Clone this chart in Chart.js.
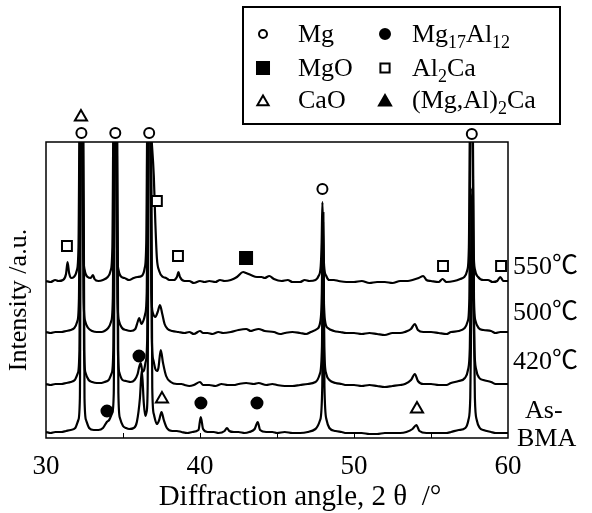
<!DOCTYPE html>
<html>
<head>
<meta charset="utf-8">
<script src="https://cdn.jsdelivr.net/npm/chart.js@4.4.1/dist/chart.umd.min.js"></script>
<style>
  html, body { margin: 0; padding: 0; background: #fff; }
  canvas { display: block; }
</style>
</head>
<body>
<canvas id="xrd" width="592" height="513"></canvas>
<script>
// x tick labels and traces (2 theta in degrees, intensity in a.u. with offsets)
const xTicks = [30, 40, 50, 60];
const minorTicks = [35, 40, 45, 50, 55];
const traceNames = ['550℃', '500℃', '420℃', 'As-BMA'];

const trace550 = [
  [30.0,157],[30.3,156],[30.6,158],[30.8,157],[31.1,158],[31.3,164],[31.4,176],[31.5,165],
  [31.65,160],[31.81,161],[32.01,168],[32.11,191],[32.19,330],[32.33,330],[32.41,191],[32.51,168],
  [32.71,161],[32.9,160],[33.05,163],[33.15,159],[33.4,157],[33.7,158],[34.01,161],[34.21,168],
  [34.31,191],[34.39,330],[34.53,330],[34.61,191],[34.71,168],[34.91,161],[35.1,160],[35.4,158],
  [35.7,160],[35.95,161],[36.21,162],[36.41,170],[36.51,195],[36.59,330],[36.73,330],[36.85,300],
  [37.0,262],[37.1,215],[37.2,180],[37.35,167],[37.6,161],[37.8,160],[38.0,158],[38.3,158],
  [38.5,161],[38.6,166],[38.7,161],[39.0,157],[39.3,157],[39.6,155],[40.0,157],[40.3,156],
  [40.6,157],[41.0,156],[41.3,158],[41.6,157],[42.0,158],[42.4,161],[42.8,166],[43.0,165],
  [43.3,163],[43.7,161],[44.0,161],[44.2,160],[44.5,162],[44.8,159],[45.3,157],[45.7,158],
  [46.0,156],[46.5,156],[46.8,158],[47.1,157],[47.5,158],[47.7,162],[47.84,172],[47.9,196],
  [47.95,236],[48.0,196],[48.06,172],[48.2,162],[48.4,158],[48.7,158],[49.0,157],[49.5,156],
  [50.0,156],[50.5,157],[51.0,155],[51.5,156],[52.0,156],[52.5,155],[53.0,157],[53.5,157],
  [53.8,158],[54.2,160],[54.5,162],[54.7,158],[55.0,157],[55.5,156],[55.75,159],[56.0,156],
  [56.5,157],[56.9,159],[57.16,161],[57.36,168],[57.46,191],[57.54,330],[57.68,330],[57.76,191],
  [57.86,168],[58.06,161],[58.4,158],[58.7,158],[59.0,156],[59.3,157],[59.5,161],[59.7,157],
  [60.0,157]
];

const trace500 = [
  [30.0,106],[30.3,105],[30.6,106],[31.0,106],[31.3,107],[31.6,108],[31.84,110],[32.04,117],
  [32.14,140],[32.22,330],[32.36,330],[32.44,140],[32.54,117],[32.74,110],[33.0,107],[33.3,106],
  [33.6,106],[33.8,107],[34.04,110],[34.24,117],[34.34,140],[34.42,330],[34.56,330],[34.64,140],
  [34.74,117],[34.94,110],[35.2,108],[35.5,107],[35.8,109],[35.95,116],[36.05,120],[36.2,114],
  [36.34,118],[36.44,124],[36.54,145],[36.62,330],[36.76,330],[36.84,145],[36.94,125],[37.1,121],
  [37.25,126],[37.4,133],[37.55,124],[37.7,114],[37.9,109],[38.2,107],[38.6,106],[39.0,105],
  [39.3,106],[39.6,104],[40.0,107],[40.2,105],[40.5,105],[40.8,104],[41.2,106],[41.5,105],
  [42.0,106],[42.5,108],[43.0,109],[43.3,107],[43.5,108],[43.8,109],[44.2,107],[44.8,106],
  [45.2,104],[45.5,105],[46.0,106],[46.5,105],[46.9,104],[47.2,106],[47.6,109],[47.82,117],
  [47.91,145],[47.97,222],[48.03,145],[48.12,117],[48.3,110],[48.7,107],[49.1,106],[49.5,105],
  [50.0,105],[50.5,104],[51.0,105],[51.5,104],[52.0,103],[52.5,105],[53.0,105],[53.3,106],
  [53.7,109],[53.95,114],[54.15,108],[54.5,106],[55.0,106],[55.5,105],[56.0,104],[56.3,106],
  [56.8,107],[57.19,110],[57.39,117],[57.49,140],[57.57,330],[57.71,330],[57.79,140],[57.89,117],
  [58.09,110],[58.4,108],[58.9,107],[59.2,105],[59.5,106],[60.0,106]
];

const trace420 = [
  [30.0,54],[30.3,53],[30.6,54],[31.0,54],[31.3,55],[31.6,56],[31.87,58],[32.07,65],
  [32.17,88],[32.25,330],[32.39,330],[32.47,88],[32.57,65],[32.77,58],[33.0,56],[33.3,55],
  [33.6,55],[33.8,56],[34.07,58],[34.27,65],[34.37,88],[34.45,330],[34.59,330],[34.67,88],
  [34.77,65],[34.97,58],[35.2,57],[35.5,56],[35.75,58],[35.95,64],[36.05,71],[36.15,75],
  [36.27,66],[36.37,68],[36.47,76],[36.57,98],[36.65,330],[36.79,330],[36.87,100],[36.97,78],
  [37.1,69],[37.2,67],[37.3,70],[37.45,88],[37.6,75],[37.8,62],[38.1,56],[38.5,54],
  [38.8,54],[39.0,53],[39.3,52],[39.6,53],[40.0,56],[40.2,53],[40.6,53],[41.0,52],
  [41.4,54],[41.8,53],[42.2,53],[42.5,54],[43.0,55],[43.5,54],[43.8,55],[44.3,53],
  [44.7,54],[45.0,53],[45.5,52],[46.0,52],[46.5,53],[47.0,54],[47.5,56],[47.78,64],
  [47.92,92],[47.99,215],[48.06,92],[48.2,64],[48.4,58],[48.8,55],[49.2,54],[49.5,53],
  [50.0,53],[50.5,52],[51.0,53],[51.5,52],[52.0,51],[52.5,52],[53.0,53],[53.3,54],
  [53.7,58],[53.95,64],[54.15,57],[54.5,54],[55.0,54],[55.5,53],[56.0,53],[56.3,55],
  [56.8,57],[57.2,60],[57.4,68],[57.52,90],[57.62,200],[57.67,250],[57.72,200],[57.82,90],
  [57.94,68],[58.14,60],[58.4,58],[58.9,56],[59.2,54],[59.5,54],[60.0,54]
];

const traceBMA = [
  [30.0,6],[30.3,5],[30.6,6],[31.0,6],[31.3,7],[31.6,8],[31.9,10],[32.1,18],
  [32.2,40],[32.28,330],[32.42,330],[32.5,40],[32.6,18],[32.8,10],[33.1,8],[33.4,8],
  [33.7,10],[33.95,16],[34.1,18],[34.3,25],[34.4,45],[34.48,330],[34.62,330],[34.7,45],
  [34.8,20],[35.0,12],[35.2,10],[35.4,9],[35.7,10],[35.9,16],[36.1,40],[36.22,68],
  [36.35,35],[36.45,22],[36.53,26],[36.6,50],[36.68,330],[36.82,330],[36.9,50],[37.0,24],
  [37.2,14],[37.35,18],[37.5,26],[37.65,18],[37.85,10],[38.2,7],[38.5,7],[38.8,6],
  [39.2,5],[39.5,6],[39.9,8],[40.05,21],[40.2,9],[40.5,6],[40.9,6],[41.2,5],
  [41.6,7],[41.75,10],[41.9,7],[42.2,6],[42.5,6],[42.9,5],[43.2,6],[43.55,9],
  [43.75,16],[43.9,8],[44.3,6],[44.7,6],[45.0,5],[45.5,6],[46.0,5],[46.5,5],
  [47.0,6],[47.5,9],[47.8,18],[47.94,52],[48.01,225],[48.08,52],[48.22,18],[48.4,10],
  [48.8,7],[49.2,6],[49.5,5],[50.0,5],[50.5,5],[51.0,4],[51.5,4],[52.0,5],
  [52.5,5],[53.0,5],[53.4,6],[53.8,9],[54.05,13],[54.25,7],[54.7,5],[55.1,5],
  [55.5,5],[56.0,5],[56.3,6],[56.8,8],[57.23,10],[57.43,18],[57.55,40],[57.65,170],
  [57.7,235],[57.75,170],[57.85,40],[57.97,18],[58.17,10],[58.4,8],[58.9,6],[59.2,5],
  [59.5,5],[60.0,5]
];

// phase markers placed above the peaks
const mgMarks = [[32.3,305],[34.5,305],[36.7,305],[47.95,249],[57.65,304]];
const al2caMarks = [[31.36,192],[37.2,237],[38.57,182],[55.78,172],[59.55,172]];
const mgoMarks = [[42.99,180]];
const mg17Marks = [[33.96,27],[36.04,82],[40.06,35],[43.7,35]];
const caoMarks = [[32.27,321],[37.53,39],[54.09,29]];

const legendNames = ['Mg', 'MgO', 'CaO', 'Mg17Al12', 'Al2Ca', '(Mg,Al)2Ca'];

const serif = '"Liberation Serif", "Noto Sans CJK JP", serif';
const toXY = arr => arr.map(p => ({ x: p[0], y: p[1] }));

function traceSet(arr) {
    return {
        data: toXY(arr),
        borderColor: '#000',
        borderWidth: 2.2,
        pointRadius: 0,
        fill: false,
        cubicInterpolationMode: 'monotone'
    };
}

// marker groups: [points, pointStyle, radius, filled]
const markGroups = [
    [mgMarks, 'circle', 5, false],
    [al2caMarks, 'rect', 7, false],
    [mgoMarks, 'rect', 8.5, true],
    [mg17Marks, 'circle', 5.5, true],
    [caoMarks, 'triangle', 7, false]
];

function drawMark(ctx, style, r, filled, x, y) {
    ctx.fillStyle = filled ? '#000' : '#fff';
    ctx.strokeStyle = '#000';
    ctx.lineWidth = 2;
    Chart.helpers.drawPoint(ctx, { pointStyle: style, radius: r, rotation: 0, borderWidth: 2 }, x, y);
}

// text with digits drawn as subscripts
function drawFormula(ctx, text, x, y) {
    let cx = x;
    text.split(/(\d+)/).forEach(part => {
        if (!part) return;
        const sub = /^\d+$/.test(part);
        ctx.font = (sub ? '18px ' : '26px ') + serif;
        ctx.fillText(part, cx, sub ? y + 6 : y);
        cx += ctx.measureText(part).width;
    });
}

const decorations = {
    id: 'decorations',
    beforeDraw(chart) {
        const ctx = chart.ctx;
        ctx.save();
        ctx.fillStyle = '#fff';
        ctx.fillRect(0, 0, chart.width, chart.height);
        ctx.restore();
    },
    afterDraw(chart) {
        const ctx = chart.ctx;
        const area = chart.chartArea;
        const xs = chart.scales.x;
        const ys = chart.scales.y;
        ctx.save();
        ctx.strokeStyle = '#000';
        ctx.fillStyle = '#000';

        // plot frame
        ctx.lineWidth = 1.5;
        ctx.strokeRect(area.left, area.top, area.right - area.left, area.bottom - area.top);

        // inward ticks on the bottom axis
        ctx.lineWidth = 1;
        minorTicks.forEach(v => {
            const px = Math.round(xs.getPixelForValue(v)) + 0.5;
            ctx.beginPath();
            ctx.moveTo(px, area.bottom);
            ctx.lineTo(px, area.bottom - 5);
            ctx.stroke();
        });

        // phase markers
        markGroups.forEach(([pts, style, r, filled]) => {
            pts.forEach(p => drawMark(ctx, style, r, filled, xs.getPixelForValue(p[0]), ys.getPixelForValue(p[1])));
        });

        // tick labels
        ctx.fillStyle = '#000';
        ctx.font = '27px ' + serif;
        ctx.textAlign = 'center';
        ctx.textBaseline = 'middle';
        xTicks.forEach(v => ctx.fillText(String(v), xs.getPixelForValue(v), 467));

        // axis titles
        ctx.font = '29px ' + serif;
        ctx.fillText('Diffraction angle, 2 θ  /°', 300, 497);
        ctx.save();
        ctx.translate(19, 300);
        ctx.rotate(-Math.PI / 2);
        ctx.font = '26px ' + serif;
        ctx.fillText('Intensity /a.u.', 0, 0);
        ctx.restore();

        // trace labels on the right
        ctx.font = '26px ' + serif;
        ctx.textAlign = 'left';
        const lx = area.right + 5;
        ctx.fillText(traceNames[0], lx, ys.getPixelForValue(171));
        ctx.fillText(traceNames[1], lx, ys.getPixelForValue(125));
        ctx.fillText(traceNames[2], lx, ys.getPixelForValue(76));
        ctx.fillText('As-', lx + 12, ys.getPixelForValue(27));
        ctx.fillText('BMA', lx + 4, ys.getPixelForValue(-1));

        // legend box
        ctx.lineWidth = 2;
        ctx.strokeRect(243, 7, 317, 117);
        const rowY = [34, 68, 100];
        const styles = [
            ['circle', 4, false], ['rect', 8.5, true], ['triangle', 6.5, false],
            ['circle', 5, true], ['rect', 6.5, false], ['triangle', 7, true]
        ];
        ctx.textBaseline = 'alphabetic';
        legendNames.forEach((name, i) => {
            const col = Math.floor(i / 3);
            const row = i % 3;
            const mx = col === 0 ? 263 : 385;
            const [style, r, filled] = styles[i];
            const my = style === 'triangle' ? rowY[row] + 2 : rowY[row];
            drawMark(ctx, style, r, filled, mx, my);
            ctx.fillStyle = '#000';
            drawFormula(ctx, name, col === 0 ? 298 : 412, rowY[row] + 8);
        });
        ctx.restore();
    }
};

new Chart(document.getElementById('xrd'), {
    type: 'line',
    data: {
        datasets: [
            traceSet(trace550),
            traceSet(trace500),
            traceSet(trace420),
            traceSet(traceBMA)
        ]
    },
    options: {
        responsive: false,
        animation: false,
        layout: { padding: { left: 46, right: 84, top: 142, bottom: 75 } },
        scales: {
            x: { type: 'linear', min: 30, max: 60, display: false },
            y: { type: 'linear', min: 0, max: 296, display: false }
        },
        plugins: {
            legend: { display: false },
            tooltip: { enabled: false }
        }
    },
    plugins: [decorations]
});
</script>
</body>
</html>
